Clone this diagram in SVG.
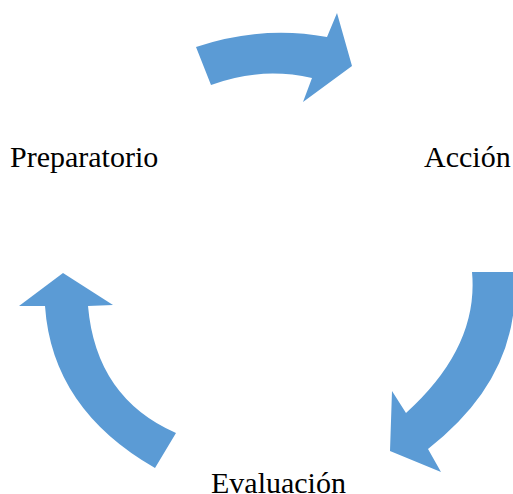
<svg xmlns="http://www.w3.org/2000/svg" width="513" height="494" viewBox="0 0 513 494">
<style>
.arrow{fill:#5B9BD5;stroke:none}
.lbl{font-family:"Liberation Serif","Times New Roman",serif;font-size:30px;fill:#000}
</style>
<rect width="513" height="494" fill="#fff"/>
<g id="connectors">
<path id="arrow-top" class="arrow" d="M196,47 Q262,25 327,37 L337,13 L352,66 L303,102 L312,78 Q260.5,66.5 211,85 Z"/>
<path id="arrow-right" class="arrow" d="M472,272 L514,272 Q523,375 428,449 L441,472 L390,451 L392,391 L406,413 Q479,347 472,272 Z"/>
<path id="arrow-left" class="arrow" d="M63,273 L113,305 L88,306 Q96,398 176,433 L155,468 Q52,409 45,306 L19,306 Z"/>
</g>
<g id="node-preparatorio"><text class="lbl" x="10" y="167">Preparatorio</text></g>
<g id="node-accion"><text class="lbl" x="424" y="167">Acción</text></g>
<g id="node-evaluacion"><text class="lbl" x="211" y="493">Evaluación</text></g>
</svg>
